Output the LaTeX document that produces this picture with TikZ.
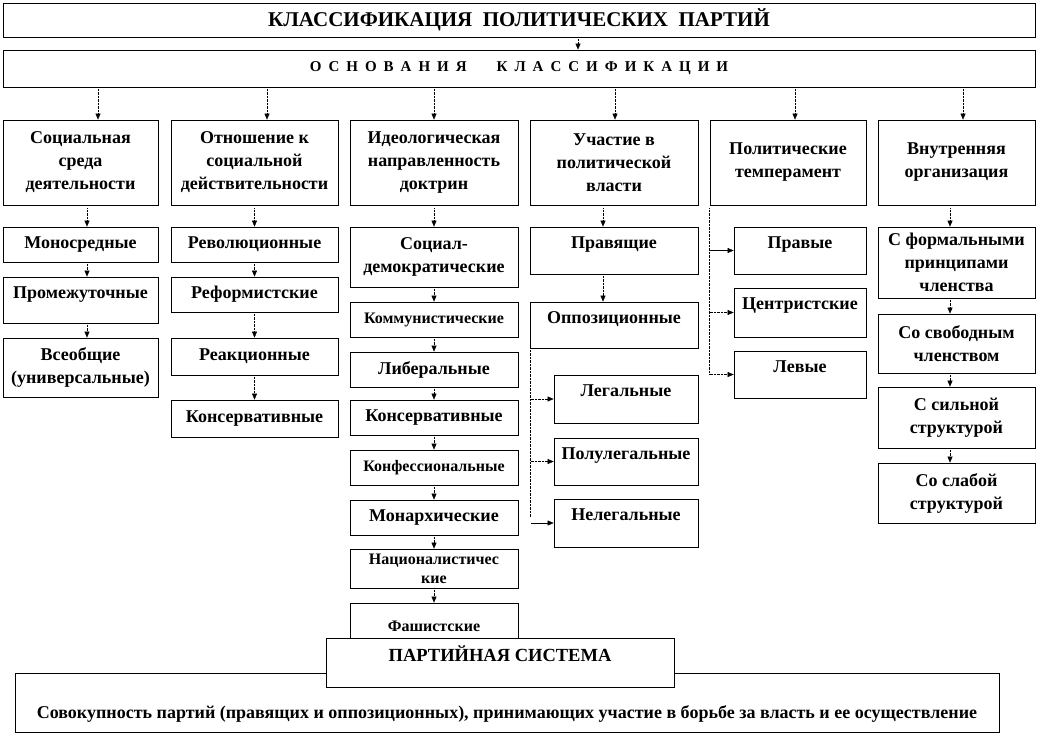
\documentclass[tikz,border=0pt]{standalone}
\usepackage{fontspec}
\setmainfont{Liberation Serif}
\usetikzlibrary{arrows.meta}

\begin{document}
\begin{tikzpicture}[x=1pt, y=-1pt]
    \tikzset{box/.style={draw, line width=0.8pt, fill=white, align=center, inner sep=0pt, font=\bfseries\fontsize{18}{23}\selectfont}}
    \tikzset{small/.style={box, font=\bfseries\fontsize{16}{19}\selectfont}}
    \tikzset{upper/.style={text height=21.5pt, text depth=#1}}
    \tikzset{arr/.style={densely dotted, -{Triangle[length=6pt,width=5pt]}}}
    \tikzset{arrsolid/.style={-{Triangle[length=6pt,width=5pt]}}}
    \useasboundingbox (0,0) rectangle (1038,738);
    % header
    \node[box, minimum width=1032pt, minimum height=34pt, font=\bfseries\fontsize{21}{24}\selectfont] (title) at (519,20) {КЛАССИФИКАЦИЯ\hspace{0.5em}ПОЛИТИЧЕСКИХ\hspace{0.5em}ПАРТИЙ};
    \node[box, minimum width=1032pt, minimum height=37pt, font={\bfseries\fontsize{15}{18}\selectfont\spaceskip=7pt}] (base) at (519,68.5) {О С Н О В А Н И Я\hspace{30pt}К Л А С С И Ф И К А Ц И И};
    % criteria
    \node[box, minimum width=155pt, minimum height=85pt] (soc) at (80.5,162.5) {Социальная\\ среда\\ деятельности};
    \node[box, minimum width=167pt, minimum height=85pt] (rel) at (254.5,162.5) {Отношение к\\ социальной\\ действительности};
    \node[box, minimum width=168pt, minimum height=85pt] (ideo) at (434,162.5) {Идеологическая\\ направленность\\ доктрин};
    \node[box, minimum width=168pt, minimum height=85pt] (part) at (614,162.5) {Участие в\\ политической\\ власти};
    \node[box, minimum width=156pt, minimum height=85pt] (temp) at (788,162.5) {Политические\\ темперамент};
    \node[box, minimum width=157pt, minimum height=85pt] (org) at (956.5,162.5) {Внутренняя\\ организация};
    % social environment
    \node[box, minimum width=155pt, minimum height=35pt] (mono) at (80.5,244.5) {Моносредные};
    \node[box, upper=24.5pt, minimum width=155pt] (inter) at (80.5,300) {Промежуточные};
    \node[box, minimum width=155pt, minimum height=59pt] (univ) at (80.5,367.5) {Всеобщие\\ (универсальные)};
    % attitude to reality
    \node[box, minimum width=167pt, minimum height=35pt] (rev) at (254.5,244.5) {Революционные};
    \node[box, minimum width=167pt, minimum height=35pt] (ref) at (254.5,294.5) {Реформистские};
    \node[box, minimum width=167pt, minimum height=37pt] (reac) at (254.5,356.5) {Реакционные};
    \node[box, minimum width=167pt, minimum height=37pt] (consa) at (254.5,418.5) {Консервативные};
    % ideology
    \node[box, minimum width=168pt, minimum height=60pt] (sd) at (434,257) {Социал-\\ демократические};
    \node[small, minimum width=168pt, minimum height=35pt] (comm) at (434,319.5) {Коммунистические};
    \node[box, minimum width=168pt, minimum height=35pt] (lib) at (434,369.5) {Либеральные};
    \node[box, minimum width=168pt, minimum height=35pt] (consb) at (434,417.5) {Консервативные};
    \node[small, minimum width=168pt, minimum height=35pt] (conf) at (434,467.5) {Конфессиональные};
    \node[box, minimum width=168pt, minimum height=35pt] (mon) at (434,517.5) {Монархические};
    \node[small, minimum width=168pt, minimum height=39pt] (nat) at (434,568.5) {Националистичес\\ кие};
    \node[small, minimum width=168pt, minimum height=47pt] (fasc) at (434,626.5) {Фашистские};
    % power
    \node[box, upper=25.5pt, minimum width=168pt] (rul) at (614,250.5) {Правящие};
    \node[box, upper=24.5pt, minimum width=168pt] (opp) at (614,325) {Оппозиционные};
    \node[box, upper=26.5pt, minimum width=144pt] (leg) at (626,399) {Легальные};
    \node[box, upper=25.5pt, minimum width=144pt] (semi) at (626,461.5) {Полулегальные};
    \node[box, upper=26.5pt, minimum width=144pt] (illeg) at (626,523) {Нелегальные};
    % temperament
    \node[box, upper=25.5pt, minimum width=132pt] (right) at (800,250.5) {Правые};
    \node[box, upper=27.5pt, minimum width=132pt] (cent) at (800,312.5) {Центристские};
    \node[box, upper=25.5pt, minimum width=132pt] (left) at (800,374.5) {Левые};
    % organisation
    \node[box, minimum width=157pt, minimum height=71pt] (form) at (956.5,262.5) {С формальными\\ принципами\\ членства};
    \node[box, minimum width=157pt, minimum height=59pt] (free) at (956.5,343.5) {Со свободным\\ членством};
    \node[box, minimum width=157pt, minimum height=61pt] (strong) at (956.5,417.5) {С сильной\\ структурой};
    \node[box, minimum width=157pt, minimum height=60pt] (weak) at (956.5,493) {Со слабой\\ структурой};
    % party system
    \node[box, text height=45pt, text depth=14pt, minimum width=984pt] (def) at (507,702.5) {Совокупность партий (правящих и оппозиционных), принимающих участие в борьбе за власть и ее осуществление};
    \node[box, text height=23pt, text depth=26pt, minimum width=348pt, font=\bfseries\fontsize{18.5}{22}\selectfont] (sys) at (500,662.5) {ПАРТИЙНАЯ СИСТЕМА};
    % arrows
    \draw[arr] ([xshift=59pt]title.south) -- ([xshift=59pt]base.north);
    \draw[arr] ([xshift=17.5pt]soc.north |- base.south) -- ([xshift=17.5pt]soc.north);
    \draw[arr] ([xshift=12.5pt]rel.north |- base.south) -- ([xshift=12.5pt]rel.north);
    \draw[arr] (ideo.north |- base.south) -- (ideo.north);
    \draw[arr] ([xshift=1pt]part.north |- base.south) -- ([xshift=1pt]part.north);
    \draw[arr] ([xshift=7pt]temp.north |- base.south) -- ([xshift=7pt]temp.north);
    \draw[arr] ([xshift=6.5pt]org.north |- base.south) -- ([xshift=6.5pt]org.north);
    \draw[arr, shorten <=3pt] ([xshift=6.5pt]soc.south) -- ([xshift=6.5pt]mono.north);
    \draw[arr] ([xshift=6.5pt]mono.south) -- ([xshift=6.5pt]inter.north);
    \draw[arr] ([xshift=6.5pt]inter.south) -- ([xshift=6.5pt]univ.north);
    \draw[arr, shorten <=3pt] (rel.south) -- (rev.north);
    \draw[arr] (rev.south) -- (ref.north);
    \draw[arr] (ref.south) -- (reac.north);
    \draw[arr] (reac.south) -- (consa.north);
    \draw[arr, shorten <=3pt] (ideo.south) -- (sd.north);
    \draw[arr] (sd.south) -- (comm.north);
    \draw[arr] (comm.south) -- (lib.north);
    \draw[arr] (lib.south) -- (consb.north);
    \draw[arr] (consb.south) -- (conf.north);
    \draw[arr] (conf.south) -- (mon.north);
    \draw[arr] (mon.south) -- (nat.north);
    \draw[arr] (nat.south) -- (fasc.north);
    \draw[arr, shorten <=3pt] ([xshift=-11pt]part.south) -- ([xshift=-11pt]rul.north);
    \draw[arr] ([xshift=-11pt]rul.south) -- ([xshift=-11pt]opp.north);
    \coordinate (oppfork) at ([xshift=1pt]opp.south west);
    \draw[densely dotted] (oppfork) -- ([yshift=6pt]oppfork |- illeg.west);
    \draw[arr] (oppfork |- leg.west) -- (leg.west);
    \draw[arr] (oppfork |- semi.west) -- (semi.west);
    \draw[arrsolid] (oppfork |- illeg.west) -- (illeg.west);
    \coordinate (tempfork) at (temp.south west);
    \draw[densely dotted, shorten <=3pt] (tempfork) -- (tempfork |- left.west);
    \draw[arrsolid] (tempfork |- right.west) -- (right.west);
    \draw[arr] (tempfork |- cent.west) -- (cent.west);
    \draw[arr] (tempfork |- left.west) -- (left.west);
    \draw[arr, shorten <=3pt] ([xshift=-6.5pt]org.south) -- ([xshift=-6.5pt]form.north);
    \draw[arr] ([xshift=-6.5pt]form.south) -- ([xshift=-6.5pt]free.north);
    \draw[arr] ([xshift=-6.5pt]free.south) -- ([xshift=-6.5pt]strong.north);
    \draw[arr] ([xshift=-6.5pt]strong.south) -- ([xshift=-6.5pt]weak.north);
\end{tikzpicture}
\end{document}
